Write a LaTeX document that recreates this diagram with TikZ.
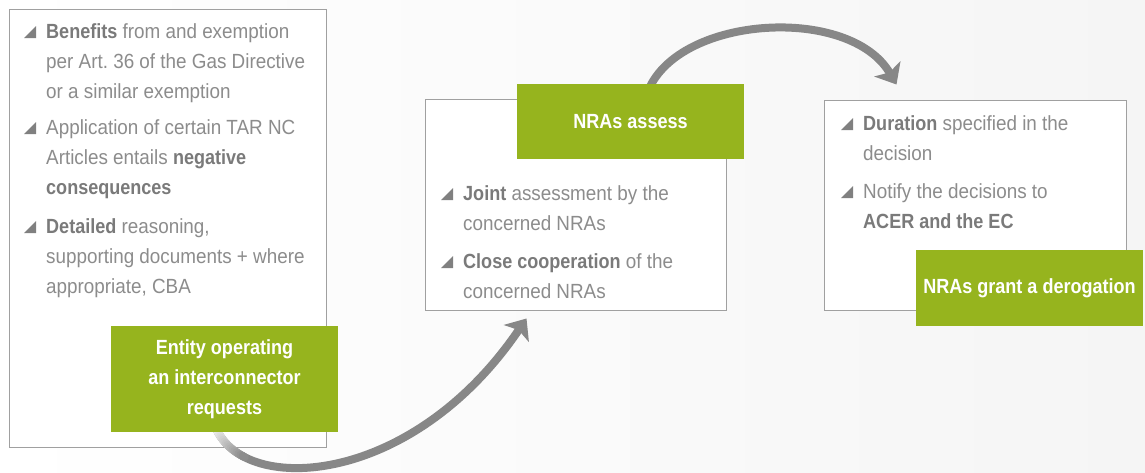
\documentclass[tikz,border=0pt]{standalone}
\usepackage{fontspec}
\setmainfont{Liberation Sans}[FakeStretch=0.92, BoldFeatures={FakeStretch=0.88}]
\usetikzlibrary{calc, positioning}
\usetikzlibrary{arrows.meta}

\definecolor{leafgreen}{RGB}{150,180,30}
\definecolor{panelgray}{RGB}{160,160,160}
\definecolor{txtgray}{RGB}{140,140,140}
\definecolor{boldgray}{RGB}{122,122,122}
\definecolor{arrowgray}{RGB}{135,135,135}
\definecolor{trigray}{RGB}{128,128,128}
\definecolor{bgright}{RGB}{245,245,245}

\newcommand{\kw}[1]{\textcolor{boldgray}{\bfseries #1}}

\begin{document}
\begin{tikzpicture}[x=1pt,y=-1pt,
  panelbox/.style={draw=panelgray, line width=1pt, fill=white, inner sep=0pt},
  greenbox/.style={fill=leafgreen, text=white, inner sep=0pt, minimum width=227pt,
    align=center, font=\bfseries\fontsize{20.5}{30}\selectfont},
  bullettext/.style={anchor=base west, align=left, inner sep=0pt, text=txtgray,
    font=\fontsize{20.5}{30}\selectfont},
  flow/.style={draw=arrowgray, line width=8pt, -{Stealth[length=18pt,width=30pt,inset=4pt]}}
]
\useasboundingbox (0,0) rectangle (1145,472);
\shade[left color=white, right color=bgright] (0,0) rectangle (1145,472);

% panels
\node[panelbox, minimum width=317pt, minimum height=438pt] (reqpanel) at (167.5,228) {};
\node[panelbox, minimum width=301pt, minimum height=211pt] (assesspanel) at (575.5,204.5) {};
\node[panelbox, minimum width=302pt, minimum height=210pt] (grantpanel) at (975,205) {};

% arrows
\coordinate (tailL) at (214.5,424);
\coordinate (headL) at ([xshift=102pt,yshift=-8pt]assesspanel.south west);
\coordinate (tailT) at (648.5,90);
\coordinate (headT) at ([xshift=73pt,yshift=15pt]grantpanel.north west);
\draw[flow] (tailL) .. controls (238,496) and (410,490) .. (headL);
\draw[flow] (tailT) .. controls (680,15) and (850,5) .. (headT);

% light tail of the lower arrow
\foreach \i in {0,...,19} {
  \pgfmathsetmacro\ta{\i*0.01}
  \pgfmathsetmacro\tb{(\i+1)*0.01}
  \pgfmathsetmacro\mixval{max(18,18+(\i-4)*82/16)}
  \path (tailL) .. controls (238,496) and (410,490) .. (headL)
    coordinate[pos=\ta] (fa) coordinate[pos=\tb] (fb);
  \draw[line width=8pt, line cap=round, draw=arrowgray!\mixval!white] (fa) -- (fb);
}

% green labels
\node[greenbox, minimum height=106pt] (req) at (224.5,379) {Entity operating\\an interconnector\\requests};
\node[greenbox, minimum height=75pt] (assess) at (630.5,121.5) {NRAs assess};
\node[greenbox, minimum height=76pt] (grant) at (1029.5,288) {NRAs grant a derogation};

% bullet texts (placed at the baseline of their last line)
\node[bullettext] (ben) at (46,98) {\kw{Benefits} from and exemption\\per Art.\ 36 of the Gas Directive\\or a similar exemption};
\node[bullettext] (tar) at (46,194) {Application of certain TAR NC\\Articles entails \kw{negative}\\\kw{consequences}};
\node[bullettext] (det) at (46,293) {\kw{Detailed} reasoning,\\supporting documents + where\\appropriate, CBA};

\node[bullettext] (joint) at (463,230) {\kw{Joint} assessment by the\\concerned NRAs};
\node[bullettext] (coop) at (463,298) {\kw{Close cooperation} of the\\concerned NRAs};

\node[bullettext] (dur) at (863,160) {\kw{Duration} specified in the\\decision};
\node[bullettext] (notify) at (863,228) {Notify the decisions to\\\kw{ACER and the EC}};

\foreach \n/\k in {ben/3,tar/3,det/3,joint/2,coop/2,dur/2,notify/2} {
  \fill[trigray] ($(\n.base west)+(-22,{-30*(\k-1)})$) -- ++(12,0) -- ++(0,-12) -- cycle;
}
\end{tikzpicture}
\end{document}
